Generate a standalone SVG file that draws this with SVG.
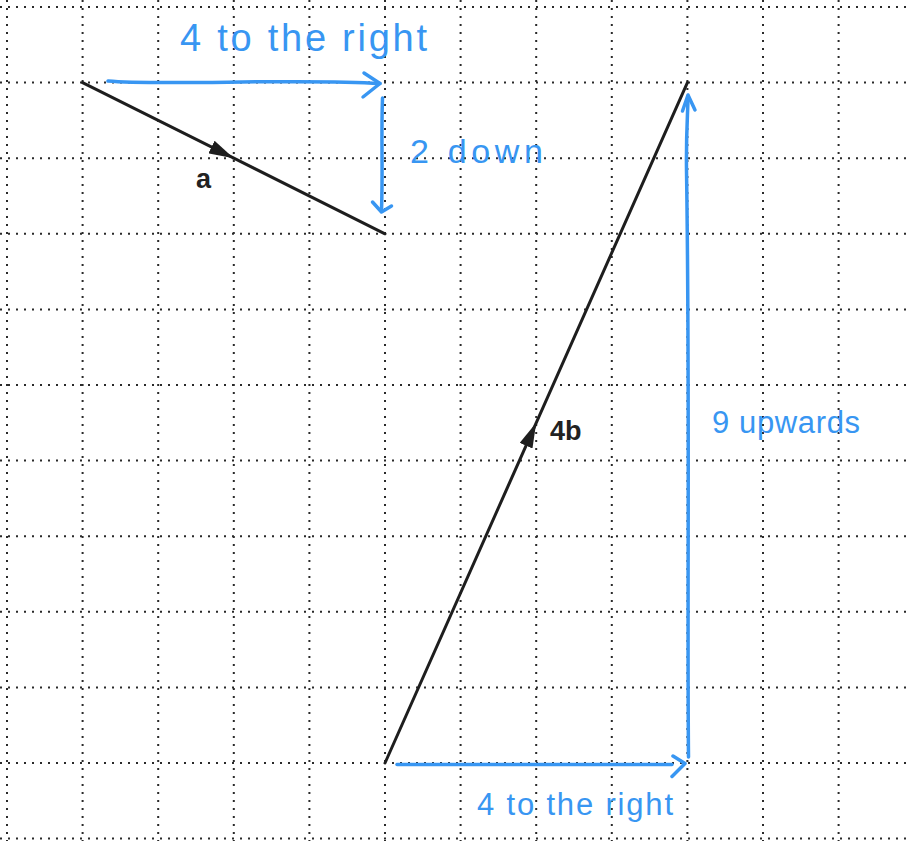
<svg xmlns="http://www.w3.org/2000/svg" width="906" height="841" viewBox="0 0 906 841">
  <style>
    .grid { fill: none; stroke: #2a2a2a; stroke-width: 2; stroke-dasharray: 2 6; }
    .vec { fill: none; stroke: #1e1e1e; stroke-width: 3; stroke-linecap: round; }
    .lbl { font-family: "Liberation Sans", Arial, sans-serif; font-weight: bold; fill: #222; }
    .blue { fill: none; stroke: #3896f2; stroke-width: 3.5; stroke-linecap: round; stroke-linejoin: round; }
    .hand { font-family: "Liberation Sans", Arial, sans-serif; fill: #3896f2; }
  </style>
  <defs>
    <marker id="tri" markerUnits="userSpaceOnUse" viewBox="0 0 25 14" refX="25" refY="7" markerWidth="25" markerHeight="14" orient="auto">
      <path d="M0,0 L25,7 L0,14 Z" fill="#1e1e1e"/>
    </marker>
  </defs>
  <rect width="906" height="841" fill="#ffffff"/>
  <g id="grid">
    <path class="grid" d="M7,0 V841 M82.6,0 V841 M158.2,0 V841 M233.8,0 V841 M309.4,0 V841 M385,0 V841 M460.6,0 V841 M536.2,0 V841 M611.8,0 V841 M687.4,0 V841 M763,0 V841 M838.6,0 V841"/>
    <path class="grid" d="M0,7 H906 M0,82.6 H906 M0,158.2 H906 M0,233.8 H906 M0,309.4 H906 M0,385 H906 M0,460.6 H906 M0,536.2 H906 M0,611.8 H906 M0,687.4 H906 M0,763 H906 M0,838.6 H906"/>
  </g>
  <g id="connectors">
    <path id="vec-a" class="vec" d="M82.6,82.6 L233.8,158.2 L385,233.8" marker-mid="url(#tri)"/>
    <path id="vec-4b" class="vec" d="M385,763 L536.2,422.8 L687.4,82.6" marker-mid="url(#tri)"/>
    <g id="annot-top">
      <path class="blue" d="M108,81 C160,86 300,78 380,83.5"/>
      <path class="blue" d="M364,73 L380,83.5 L363,97"/>
    </g>
    <g id="annot-down">
      <path class="blue" d="M382.5,98 C381,140 383,165 381.5,211"/>
      <path class="blue" d="M372.5,202 L381.5,212 L391.5,206"/>
    </g>
    <g id="annot-up">
      <path class="blue" stroke-width="4" d="M688.5,757 C687,600 690,400 686.5,170 C686,130 688,112 688,96"/>
      <path class="blue" stroke-width="4" d="M682.5,111 L688,95 L695,110"/>
    </g>
    <g id="annot-bottom">
      <path class="blue" stroke-width="4" d="M397,764.5 L672,764.5"/>
      <path class="blue" stroke-width="3.5" d="M673,756 L685,763.5 L672,776.5"/>
    </g>
  </g>
  <g id="label-a"><text class="lbl" x="196" y="188" font-size="27">a</text></g>
  <g id="label-4b"><text class="lbl" x="550" y="440" font-size="27">4b</text></g>
  <g id="text-top"><text class="hand" x="180" y="51" font-size="38" textLength="247" lengthAdjust="spacing">4 to the right</text></g>
  <g id="text-down"><text class="hand" x="410" y="163" font-size="34" textLength="133" lengthAdjust="spacing">2 down</text></g>
  <g id="text-up"><text class="hand" x="712" y="433" font-size="31" textLength="148" lengthAdjust="spacing">9 upwards</text></g>
  <g id="text-bottom"><text class="hand" x="477" y="815" font-size="31" textLength="196" lengthAdjust="spacing">4 to the right</text></g>
</svg>
